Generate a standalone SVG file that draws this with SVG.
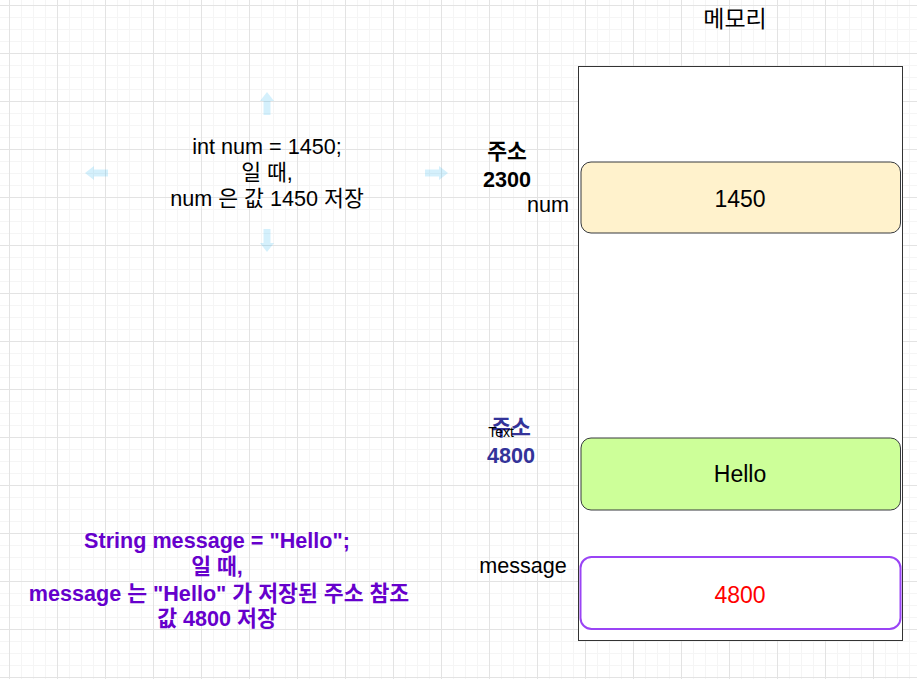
<svg xmlns="http://www.w3.org/2000/svg" width="917" height="679" viewBox="0 0 917 679">
  <defs>
    <pattern id="grid" patternUnits="userSpaceOnUse" x="9" y="5" width="48" height="48">
      <path d="M12.5 0V48M24.5 0V48M36.5 0V48M0 12.5H48M0 24.5H48M0 36.5H48" stroke="#f5f5f5" stroke-width="1" fill="none"/>
      <path d="M0.5 0V48M0 0.5H48" stroke="#e3e3e3" stroke-width="1" fill="none"/>
    </pattern>
    <style>
      text { font-family: "Liberation Sans", "Noto Sans CJK KR", sans-serif; }
      .t { font-size: 21.6px; fill: #000; text-anchor: middle; }
      .b { font-weight: bold; }
      .purple { fill: #6600cc; }
      .navy { fill: #333399; }
      .val { font-size: 23px; text-anchor: middle; }
      .cell { stroke: #36393d; stroke-width: 1; }
      .hover { fill: #29b6f2; fill-opacity: 0.2; }
    </style>
  </defs>
  <rect x="0" y="0" width="917" height="679" fill="#ffffff"/>
  <rect x="0" y="0" width="917" height="679" fill="url(#grid)"/>

  <g id="memory-title">
    <text x="735" y="27" style="font-size:23px" text-anchor="middle">메모리</text>
  </g>

  <g id="memory">
    <rect x="578.5" y="66.5" width="324" height="574" fill="#ffffff" stroke="#333333" stroke-width="1"/>
  </g>

  <g id="cell-num">
    <rect class="cell" x="581" y="162" width="319.5" height="71" rx="10" fill="#fff2cc"/>
    <text class="val" x="740" y="207">1450</text>
  </g>

  <g id="cell-hello">
    <rect class="cell" x="581" y="438" width="319.5" height="72" rx="10" fill="#cdff99"/>
    <text class="val" x="740" y="482">Hello</text>
  </g>

  <g id="cell-message">
    <rect x="580.5" y="557" width="320" height="72" rx="11" fill="#ffffff" stroke="#9a44f5" stroke-width="2"/>
    <text class="val" x="740" y="603" fill="#ff0000">4800</text>
  </g>

  <g id="addr-2300">
    <text class="t b" x="507" y="159">주소</text>
    <text class="t b" x="507" y="187">2300</text>
  </g>

  <g id="label-num">
    <text class="t" x="548" y="212">num</text>
  </g>

  <g id="addr-4800">
    <text class="t b navy" x="511" y="435">주소</text>
    <text class="t b navy" x="511" y="463">4800</text>
    <text x="501" y="437" style="font-size:14px" text-anchor="middle" fill="#000000">Text</text>
  </g>

  <g id="label-message">
    <text class="t" x="523" y="573">message</text>
  </g>

  <g id="desc-int">
    <text class="t" x="267" y="154">int num = 1450;</text>
    <text class="t" x="267" y="180">일 때,</text>
    <text class="t" x="267" y="206">num 은 값 1450 저장</text>
  </g>

  <g id="hover-arrows">
    <polygon class="hover" points="267,92 274,101 270.5,101 270.5,115 263.5,115 263.5,101 260,101"/>
    <polygon class="hover" points="267,252 274,243 270.5,243 270.5,229 263.5,229 263.5,243 260,243"/>
    <polygon class="hover" points="85,173 94,166 94,169.5 108,169.5 108,176.5 94,176.5 94,180"/>
    <polygon class="hover" points="448,173 439,166 439,169.5 425,169.5 425,176.5 439,176.5 439,180"/>
  </g>

  <g id="desc-string">
    <text class="t b purple" x="217" y="548">String message = "Hello";</text>
    <text class="t b purple" x="217" y="574">일 때,</text>
    <text class="t b purple" x="219" y="601">message 는 "Hello" 가 저장된 주소 참조</text>
    <text class="t b purple" x="217" y="626">값 4800 저장</text>
  </g>

  <g id="connectors"></g>
</svg>
